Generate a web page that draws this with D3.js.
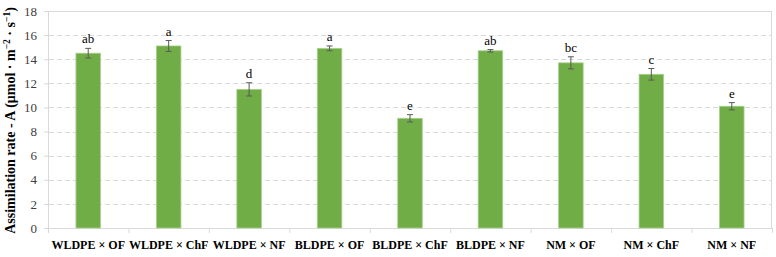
<!DOCTYPE html>
<html>
<head>
<meta charset="utf-8">
<script src="https://cdn.jsdelivr.net/npm/d3@7"></script>
<style>
  body { margin: 0; background: #fff; }
</style>
</head>
<body>
<div id="chartArea"></div>
<script>
let categories = ['WLDPE × OF', 'WLDPE × ChF', 'WLDPE × NF', 'BLDPE × OF', 'BLDPE × ChF',
                  'BLDPE × NF', 'NM × OF', 'NM × ChF', 'NM × NF']
let values = [14.5, 15.1, 11.5, 14.9, 9.1, 14.7, 13.7, 12.75, 10.1]
let errors = [0.4, 0.45, 0.55, 0.2, 0.3, 0.1, 0.5, 0.48, 0.3]
let letters = ['ab', 'a', 'd', 'a', 'e', 'ab', 'bc', 'c', 'e']
let yTicks = [0, 2, 4, 6, 8, 10, 12, 14, 16, 18]

let serif = '"Liberation Serif", "Times New Roman", serif'
let svgWidth = 776
let svgHeight = 257
let plotLeft = 48, plotRight = 772, plotTop = 11, plotBottom = 228

let xScale = d3.scaleBand()
  .domain(categories)
  .range([plotLeft, plotRight])
  .paddingInner(0.695)
  .paddingOuter(0.3475)

let yScale = d3.scaleLinear()
  .domain([0, 18])
  .range([plotBottom, plotTop])

let svg = d3.select('#chartArea')
  .append('svg')
  .attr('width', svgWidth)
  .attr('height', svgHeight)
  .attr('font-family', serif)

// plot box
svg.append('rect')
  .attr('x', plotLeft + 0.5).attr('y', plotTop + 0.5)
  .attr('width', plotRight - plotLeft - 1).attr('height', plotBottom - plotTop)
  .attr('fill', 'none')
  .attr('stroke', '#d9d9d9')

// dashed grid
svg.append('g')
  .selectAll('line')
  .data(yTicks.filter(d => d > 0 && d < 18))
  .enter()
  .append('line')
  .attr('x1', plotLeft + 1).attr('x2', plotRight - 1)
  .attr('y1', d => Math.round(yScale(d)) + 0.5)
  .attr('y2', d => Math.round(yScale(d)) + 0.5)
  .attr('stroke', '#d9d9d9')
  .attr('stroke-dasharray', '5,3')

// y axis
let yAxis = svg.append('g')
  .attr('transform', `translate(${plotLeft},0)`)
  .call(d3.axisLeft(yScale).tickValues(yTicks).tickSize(4).tickPadding(7))
yAxis.attr('font-family', serif)
yAxis.select('.domain').remove()
yAxis.selectAll('line').attr('stroke', '#d9d9d9')
yAxis.selectAll('text').attr('fill', '#404040').attr('font-family', serif).style('font-size', '13px')

// x axis baseline with category dividers
let xAxis = svg.append('g')
  .attr('transform', `translate(0,${plotBottom})`)
xAxis.append('line')
  .attr('x1', plotLeft - 4).attr('x2', plotRight)
  .attr('y1', 0.5).attr('y2', 0.5)
  .attr('stroke', '#d9d9d9')
xAxis.selectAll('.div')
  .data(d3.range(categories.length + 1))
  .enter()
  .append('line')
  .attr('x1', i => plotLeft + i * (plotRight - plotLeft) / categories.length + 0.5)
  .attr('x2', i => plotLeft + i * (plotRight - plotLeft) / categories.length + 0.5)
  .attr('y1', 0).attr('y2', 5)
  .attr('stroke', '#d9d9d9')
xAxis.selectAll('.lab')
  .data(categories)
  .enter()
  .append('text')
  .attr('x', d => xScale(d) + xScale.bandwidth() / 2)
  .attr('y', 21)
  .attr('text-anchor', 'middle')
  .attr('font-family', serif)
  .style('font-size', '12px')
  .style('font-weight', 'bold')
  .attr('fill', '#000')
  .text(d => d)

// y label
svg.append('text')
  .attr('transform', `translate(15,${(plotTop + plotBottom) / 2 + 1}) rotate(-90)`)
  .attr('text-anchor', 'middle')
  .attr('font-family', serif)
  .style('font-size', '14px')
  .style('font-weight', 'bold')
  .html('Assimilation rate - A (μmol · m<tspan dy="-5" font-size="9.5px">−2</tspan><tspan dy="5"> · s</tspan><tspan dy="-5" font-size="9.5px">−1</tspan><tspan dy="5">)</tspan>')

// bars
svg.selectAll('.bar')
  .data(values)
  .enter()
  .append('rect')
  .attr('x', (d, i) => xScale(categories[i]))
  .attr('y', d => yScale(d))
  .attr('width', xScale.bandwidth())
  .attr('height', d => plotBottom - yScale(d))
  .attr('fill', '#70ad47')
  .attr('stroke', '#a9d18e')
  .attr('stroke-width', 0.8)

// error bars
let eb = svg.append('g').attr('stroke', '#595959').attr('stroke-width', 1)
values.forEach((v, i) => {
  let cx = xScale(categories[i]) + xScale.bandwidth() / 2
  let y1 = yScale(v + errors[i]), y2 = yScale(v - errors[i])
  eb.append('line').attr('x1', cx).attr('x2', cx).attr('y1', y1).attr('y2', y2)
  eb.append('line').attr('x1', cx - 3).attr('x2', cx + 3).attr('y1', y1).attr('y2', y1)
  eb.append('line').attr('x1', cx - 3).attr('x2', cx + 3).attr('y1', y2).attr('y2', y2)
})

// significance letters
svg.selectAll('.letter')
  .data(letters)
  .enter()
  .append('text')
  .attr('x', (d, i) => xScale(categories[i]) + xScale.bandwidth() / 2)
  .attr('y', (d, i) => yScale(values[i] + errors[i]) - 5)
  .attr('text-anchor', 'middle')
  .attr('font-family', serif)
  .style('font-size', '13px')
  .attr('fill', '#000')
  .text(d => d)
</script>
</body>
</html>
